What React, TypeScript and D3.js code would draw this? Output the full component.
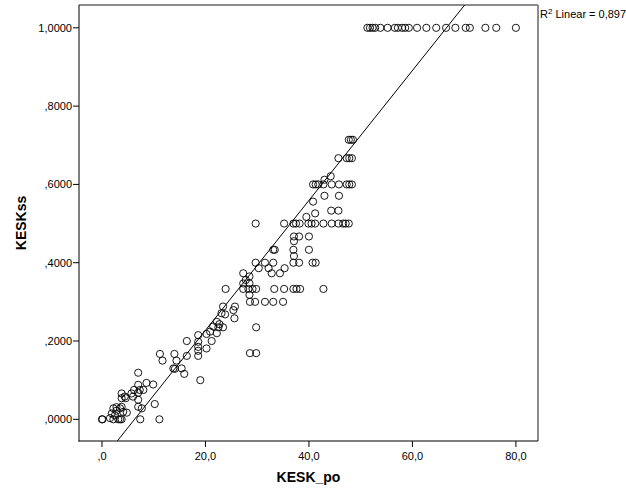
import React from "react";
import * as d3 from "d3";

// ---- data (KESK_po, KESKss) ----
const topRowX: number[] = [51.3, 51.8, 52.3, 52.8, 53.8, 55.2, 56.6, 57.2, 58.0, 58.6, 59.3, 60.9, 62.7, 64.6, 66.5, 68.3, 70.3, 71.1, 74.1, 76.2, 80.0];
const topRowY = 1.0;

const pointsUpper: [number, number][] = [
  [47.7, 0.714], [48.1, 0.714], [48.5, 0.714],
  [45.7, 0.667], [47.3, 0.667], [47.8, 0.667], [48.3, 0.667],
  [44.2, 0.621], [43.0, 0.612],
  [40.8, 0.6], [41.3, 0.6], [41.8, 0.6], [42.8, 0.6], [44.4, 0.6], [45.8, 0.6], [47.3, 0.6], [47.8, 0.6], [48.3, 0.6],
  [43.0, 0.571], [45.8, 0.571],
  [40.8, 0.556], [41.2, 0.526], [44.3, 0.533], [45.7, 0.533], [39.5, 0.517],
  [29.7, 0.5], [35.2, 0.5], [37.0, 0.5], [37.5, 0.5], [38.2, 0.5], [39.9, 0.5], [40.5, 0.5], [41.2, 0.5], [42.8, 0.5], [44.4, 0.5], [45.7, 0.5], [46.6, 0.5], [47.1, 0.5], [47.7, 0.5],
];

const pointsMid: [number, number][] = [
  [37.1, 0.467], [38.1, 0.467], [40.0, 0.467], [37.1, 0.455],
  [33.1, 0.433], [33.4, 0.433], [37.0, 0.433], [40.0, 0.433], [37.1, 0.417],
  [29.7, 0.4], [31.5, 0.4], [33.1, 0.4], [37.0, 0.4], [38.1, 0.4], [40.7, 0.4], [41.3, 0.4],
  [30.3, 0.386], [32.2, 0.386], [35.3, 0.386],
  [27.3, 0.373], [32.8, 0.373], [34.4, 0.373],
  [28.5, 0.365], [27.8, 0.356], [27.3, 0.347], [28.5, 0.347],
  [23.9, 0.333], [27.3, 0.333], [28.3, 0.333], [29.1, 0.333], [29.8, 0.333], [33.3, 0.333], [35.2, 0.333], [37.0, 0.333], [37.6, 0.333], [38.3, 0.333], [42.8, 0.333],
  [28.5, 0.318],
  [28.6, 0.3], [29.6, 0.3], [31.5, 0.3], [33.1, 0.3], [35.0, 0.3],
];

const pointsLow: [number, number][] = [
  [23.4, 0.288], [25.7, 0.288], [25.4, 0.279], [23.1, 0.271], [23.8, 0.268], [25.6, 0.258],
  [22.2, 0.249], [22.7, 0.243], [21.5, 0.237], [22.5, 0.235], [23.4, 0.235], [29.8, 0.235],
  [20.9, 0.224], [22.2, 0.22], [20.2, 0.218], [21.2, 0.2], [16.4, 0.2],
  [18.6, 0.215], [18.6, 0.198], [18.6, 0.185], [18.6, 0.175], [18.6, 0.162],
  [20.2, 0.181], [28.6, 0.169], [29.8, 0.169], [16.4, 0.162], [19.0, 0.1],
];

const pointsBottom: [number, number][] = [
  [11.2, 0.167], [11.7, 0.15], [14.0, 0.167], [14.4, 0.15], [13.8, 0.13], [14.1, 0.129], [15.4, 0.13], [15.9, 0.116],
  [7.0, 0.119], [8.6, 0.093], [9.9, 0.089], [7.0, 0.088],
  [3.8, 0.066], [4.4, 0.058], [3.8, 0.054], [4.6, 0.054], [5.7, 0.066], [6.0, 0.058], [6.2, 0.075], [7.0, 0.068], [7.3, 0.075], [8.0, 0.075], [7.0, 0.05],
  [7.0, 0.032], [7.7, 0.028], [10.2, 0.039],
  [1.9, 0.015], [2.2, 0.028], [2.8, 0.022], [3.5, 0.028], [4.1, 0.019], [4.8, 0.017], [2.8, 0.031], [3.8, 0.032], [2.5, 0.01],
  [0, 0], [0.1, 0], [1.55, 0.003], [2.2, 0], [3.15, 0], [3.5, 0], [3.8, 0], [7.4, 0], [11.1, 0],
];

const xTicks: number[] = [0, 20, 40, 60, 80];
const xTickLabels: string[] = [",0", "20,0", "40,0", "60,0", "80,0"];
const yTicks: number[] = [0, 0.2, 0.4, 0.6, 0.8, 1.0];
const yTickLabels: string[] = [",0000", ",2000", ",4000", ",6000", ",8000", "1,0000"];

const fitIntercept = -0.1045;
const fitSlope = 0.01659;
const r2Text = "0,897";

const xTitle = "KESK_po";
const yTitle = "KESKss";

export default function App() {
  const W = 626, H = 501;
  const L = 79, R = 538, T = 5, B = 441;
  const x = d3.scaleLinear().domain([-4.44, 84.27]).range([L, R]);
  const y = d3.scaleLinear().domain([-0.0554, 1.0583]).range([B, T]);

  const all: [number, number][] = [
    ...topRowX.map((v) => [v, topRowY] as [number, number]),
    ...pointsUpper, ...pointsMid, ...pointsLow, ...pointsBottom,
  ];

  const fx0 = -4.44, fx1 = 84.27;
  const fitLine = d3.line<number>()
    .x((d) => x(d))
    .y((d) => y(fitIntercept + fitSlope * d));

  const font = "'Liberation Sans', Arial, sans-serif";

  return (
    <svg width={W} height={H} style={{ position: "absolute", left: 0, top: 0, background: "#fff" }} fontFamily={font}>
      <defs>
        <clipPath id="plotClip">
          <rect x={L} y={T} width={R - L} height={B - T} />
        </clipPath>
      </defs>
      <rect x={0} y={0} width={W} height={H} fill="#fff" />
      {/* frame */}
      <line x1={L} y1={T} x2={R} y2={T} stroke="#8c8c8c" strokeWidth={2} />
      <line x1={R} y1={T} x2={R} y2={B} stroke="#8c8c8c" strokeWidth={2} />
      <line x1={L} y1={T} x2={L} y2={B + 0.5} stroke="#000" strokeWidth={1} />
      <line x1={L - 0.5} y1={B} x2={R} y2={B} stroke="#000" strokeWidth={1} />

      {/* points */}
      <g clipPath="url(#plotClip)">
        {all.map((p, i) => (
          <circle key={i} cx={x(p[0])} cy={y(p[1])} r={3.6} fill="none" stroke="#000" strokeWidth={0.9} />
        ))}
        <path d={fitLine([fx0, fx1]) || ""} fill="none" stroke="#000" strokeWidth={1} />
      </g>

      {/* y axis */}
      {yTicks.map((t, i) => (
        <g key={"y" + i}>
          <line x1={L - 6} x2={L} y1={y(t)} y2={y(t)} stroke="#000" strokeWidth={1} />
          <text x={L - 7} y={y(t) + 4} textAnchor="end" fontSize={11} fill="#000">{yTickLabels[i]}</text>
        </g>
      ))}
      {/* x axis */}
      {xTicks.map((t, i) => (
        <g key={"x" + i}>
          <line x1={x(t)} x2={x(t)} y1={B} y2={B + 6} stroke="#000" strokeWidth={1} />
          <text x={x(t)} y={B + 19} textAnchor="middle" fontSize={11} fill="#000">{xTickLabels[i]}</text>
        </g>
      ))}

      <text x={(L + R) / 2} y={482} textAnchor="middle" fontSize={14} fontWeight="bold" fill="#000">{xTitle}</text>
      <text transform={`translate(26, ${(T + B) / 2}) rotate(-90)`} textAnchor="middle" fontSize={14} fontWeight="bold" fill="#000">{yTitle}</text>

      <text x={540} y={18} fontSize={11} fill="#000">
        R<tspan fontSize={8} dy={-4}>2</tspan><tspan dy={4}> Linear = {r2Text}</tspan>
      </text>
    </svg>
  );
}
